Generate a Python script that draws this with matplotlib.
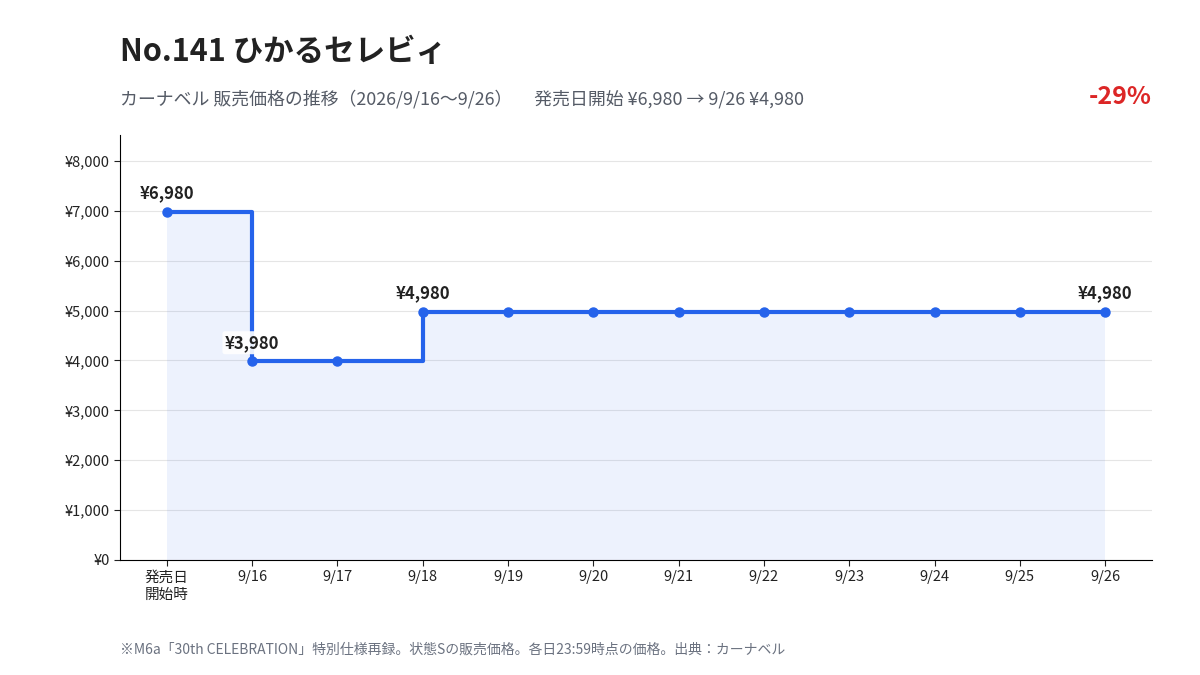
import numpy as np
import matplotlib
matplotlib.use("Agg")
import matplotlib.pyplot as plt
from matplotlib.ticker import FuncFormatter

plt.rcParams['font.family'] = ['Noto Sans CJK JP', 'DejaVu Sans']

# data
dates = ["発売日\n開始時", "9/16", "9/17", "9/18", "9/19", "9/20",
         "9/21", "9/22", "9/23", "9/24", "9/25", "9/26"]
prices = [6980, 3980, 3980, 4980, 4980, 4980, 4980, 4980, 4980, 4980, 4980, 4980]
labelled = [0, 1, 3, 11]

blue = "#2563eb"
x = np.arange(len(prices))

fig = plt.figure(figsize=(12, 6.75), dpi=100)
ax = fig.add_axes([0.1, 0.1704, 0.86, 0.6296])

ax.fill_between(x, prices, step="post", color=blue, alpha=0.08, lw=0)
ax.plot(x, prices, drawstyle="steps-post", color=blue, lw=3, zorder=3)
ax.plot(x, prices, "o", color=blue, ms=6.5, zorder=4)

for i in labelled:
    kw = {}
    if i == 1:
        kw["bbox"] = dict(boxstyle="round,pad=0.15", fc="white", ec="none", alpha=0.9)
    ax.annotate(f"¥{prices[i]:,}", (x[i], prices[i]), xytext=(0, 7),
                textcoords="offset points", ha="center", va="bottom",
                fontsize=12, fontweight="bold", color="#222222", zorder=5, **kw)

ax.set_xlim(-0.55, 11.55)
ax.set_ylim(0, 8520)
ax.set_yticks(range(0, 8001, 1000))
ax.yaxis.set_major_formatter(FuncFormatter(lambda v, p: f"¥{int(v):,}"))
ax.set_xticks(x)
ax.set_xticklabels(dates, linespacing=1.35)
ax.tick_params(labelsize=10.5, colors="#222222", length=4)
ax.grid(axis="y", color="#e5e5e5", lw=0.8)
ax.set_axisbelow(True)
for s in ["top", "right"]:
    ax.spines[s].set_visible(False)

fig.text(0.1, 0.9225, "No.141 ひかるセレビィ", fontsize=22, fontweight="bold",
         color="#222222", va="center")
fig.text(0.1, 0.853, "カーナベル 販売価格の推移（2026/9/16〜9/26）　 発売日開始 ¥6,980 → 9/26 ¥4,980",
         fontsize=12.9, color="#555b66", va="center")
fig.text(0.9595, 0.856, "-29%", fontsize=18, fontweight="bold", color="#dc2626",
         va="center", ha="right")
fig.text(0.1, 0.037, "※M6a「30th CELEBRATION」特別仕様再録。状態Sの販売価格。各日23:59時点の価格。出典：カーナベル",
         fontsize=10, color="#6b7280", va="center")

fig.savefig("out.png", dpi=100)
